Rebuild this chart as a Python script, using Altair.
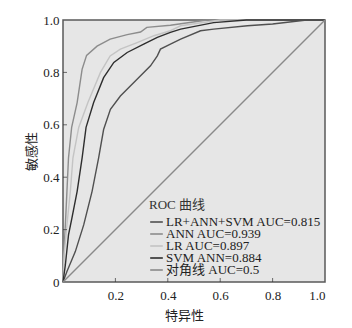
import altair as alt
import pandas as pd

# ROC curve points (specificity axis value, sensitivity)
combo_x = [0, 0.015, 0.047, 0.079, 0.111, 0.136, 0.155, 0.181, 0.219, 0.257, 0.296, 0.334, 0.36, 0.372, 0.41, 0.449, 0.525, 0.575, 0.704, 0.80, 0.93, 1.0]
combo_y = [0, 0.04, 0.116, 0.218, 0.346, 0.474, 0.582, 0.659, 0.71, 0.748, 0.787, 0.825, 0.863, 0.889, 0.908, 0.927, 0.959, 0.965, 0.978, 0.985, 1.0, 1.0]

ann_x = [0, 0.002, 0.009, 0.015, 0.021, 0.033, 0.054, 0.073, 0.09, 0.13, 0.18, 0.245, 0.296, 0.32, 0.41, 0.55, 1.0]
ann_y = [0, 0.09, 0.218, 0.346, 0.474, 0.59, 0.685, 0.812, 0.865, 0.90, 0.927, 0.944, 0.954, 0.972, 0.98, 1.0, 1.0]

lr_x = [0, 0.004, 0.015, 0.028, 0.038, 0.06, 0.095, 0.143, 0.18, 0.219, 0.283, 0.347, 0.41, 0.449, 0.6, 1.0]
lr_y = [0, 0.1, 0.218, 0.346, 0.474, 0.59, 0.685, 0.80, 0.863, 0.889, 0.914, 0.94, 0.959, 0.978, 1.0, 1.0]

svm_x = [0, 0.009, 0.021, 0.034, 0.054, 0.073, 0.088, 0.117, 0.155, 0.194, 0.245, 0.308, 0.36, 0.41, 0.449, 0.575, 0.70, 1.0]
svm_y = [0, 0.065, 0.18, 0.244, 0.346, 0.474, 0.59, 0.685, 0.78, 0.838, 0.876, 0.908, 0.934, 0.953, 0.965, 0.99, 1.0, 1.0]

diag_x = [0, 1.0]
diag_y = [0, 1.0]

labels = ["LR+ANN+SVM AUC=0.815", "ANN AUC=0.939", "LR AUC=0.897", "SVM ANN=0.884", "对角线 AUC=0.5"]
colors = ["#505050", "#8c8c8c", "#c4c4c4", "#2e2e2e", "#8a8a8a"]

x_ticks = [0.2, 0.4, 0.6, 0.8, 1.0]
y_ticks = [0, 0.2, 0.4, 0.6, 0.8, 1.0]
inner_x_ticks = [0.2, 0.4, 0.6, 0.8]
inner_y_ticks = [0.2, 0.4, 0.6, 0.8]

rows = []
for lab, xs, ys in zip(labels, [combo_x, ann_x, lr_x, svm_x, diag_x], [combo_y, ann_y, lr_y, svm_y, diag_y]):
    for i, (a, b) in enumerate(zip(xs, ys)):
        rows.append({"series": lab, "fx": a, "fy": b, "order": i})
df = pd.DataFrame(rows)

FONT = "Liberation Serif, Noto Sans CJK SC"
W, H = 262, 262

xscale = alt.Scale(domain=[0, 1], nice=False, zero=False)
yscale = alt.Scale(domain=[0, 1], nice=False, zero=False)

lines = alt.Chart(df).mark_line(strokeWidth=1.4).encode(
    x=alt.X("fx:Q", scale=xscale,
            axis=alt.Axis(title="特异性", values=x_ticks, format=".1f", tickSize=0, domain=False,
                          grid=False, labelPadding=7, titleX=121, titleY=33, titleBaseline="middle",
                          labelFont=FONT, titleFont=FONT, labelFontSize=13, titleFontSize=13,
                          labelColor="#222", titleColor="#222", titleFontWeight="normal")),
    y=alt.Y("fy:Q", scale=yscale,
            axis=alt.Axis(title="敏感性", values=y_ticks, tickSize=0, domain=False, grid=False,
                          labelExpr="datum.value == 0 ? '0' : format(datum.value, '.1f')",
                          labelPadding=4, titleX=-32, titleY=131, titleBaseline="middle",
                          labelFont=FONT, titleFont=FONT, labelFontSize=13, titleFontSize=13,
                          labelColor="#222", titleColor="#222", titleFontWeight="normal")),
    color=alt.Color("series:N", scale=alt.Scale(domain=labels, range=colors),
                    legend=alt.Legend(title="ROC 曲线", orient="none", legendX=86, legendY=179,
                                      symbolType="stroke", symbolSize=160, symbolStrokeWidth=1.6,
                                      labelFontSize=13, titleFontSize=13, titleFontWeight="normal",
                                      labelFont=FONT, titleFont=FONT, labelColor="#222", titleColor="#333",
                                      clipHeight=8, rowPadding=-1, labelOffset=2, titlePadding=6,
                                      labelLimit=300, padding=0)),
    order="order:Q",
)

xt = alt.Chart(pd.DataFrame({"v": inner_x_ticks})).mark_tick(color="#333", size=4, thickness=1, orient="vertical").encode(
    x=alt.X("v:Q", scale=xscale), y=alt.value(H - 2))
yt = alt.Chart(pd.DataFrame({"v": inner_y_ticks})).mark_tick(color="#333", size=4, thickness=1, orient="horizontal").encode(
    y=alt.Y("v:Q", scale=yscale), x=alt.value(2))

chart = alt.layer(lines, xt, yt).properties(
    width=W, height=H,
    background="white",
    autosize=alt.AutoSizeParams(type="none"),
    padding={"left": 63, "top": 20, "right": 27, "bottom": 46},
).configure_view(
    fill="#e6e6e6", stroke="#5a5a5a", strokeWidth=1.5
)

chart.save("out.html", embed_options={"renderer": "svg", "actions": False})
